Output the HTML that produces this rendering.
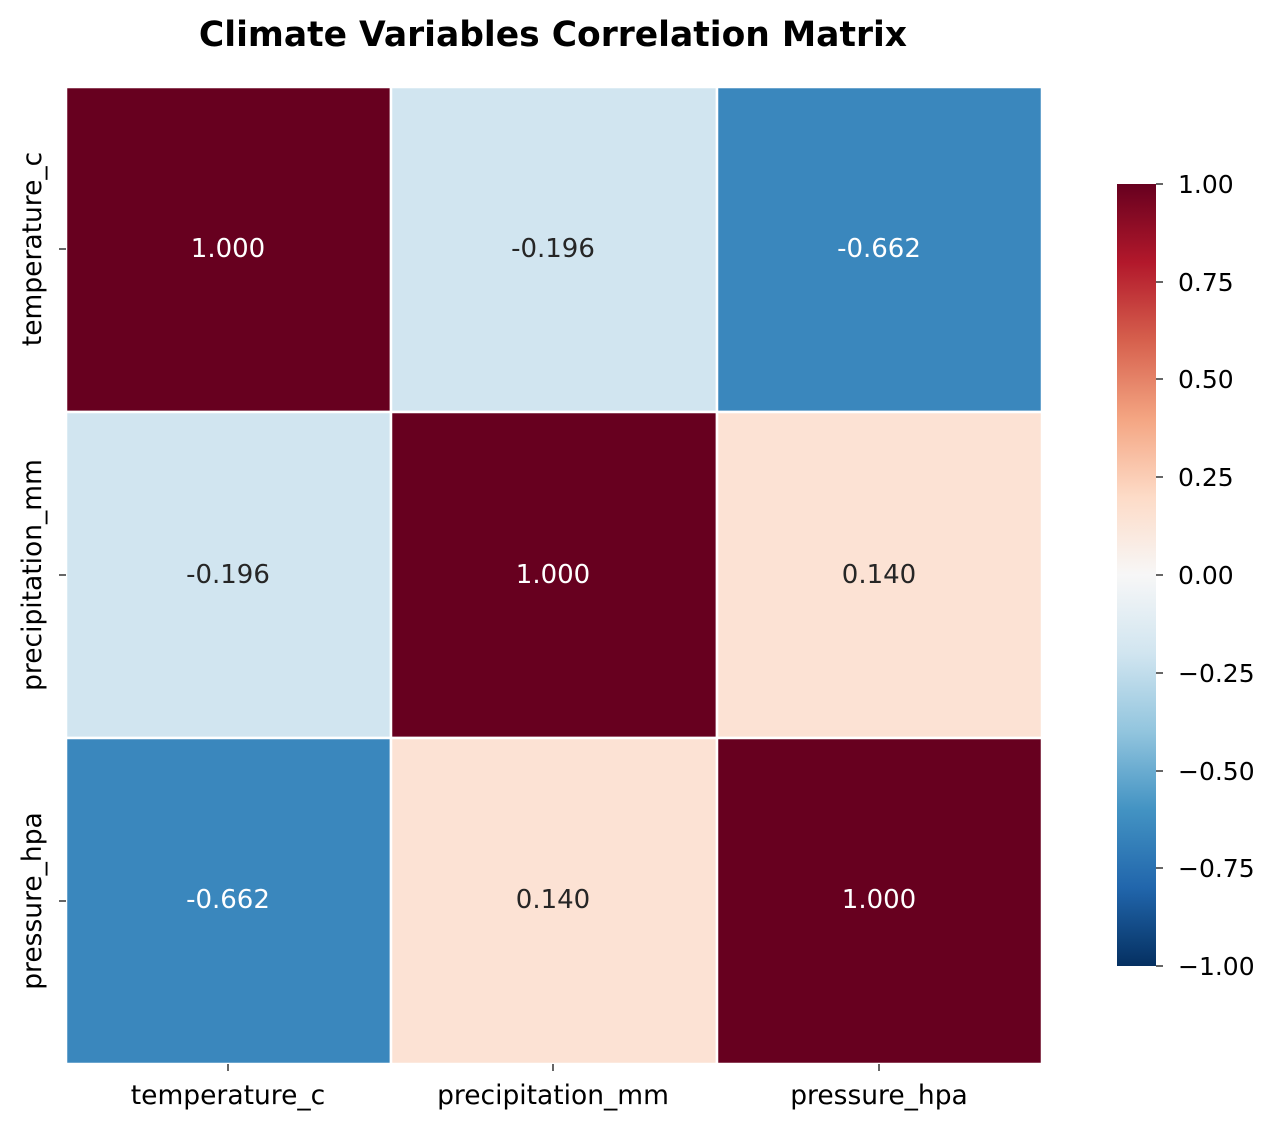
<!DOCTYPE html>
<html><head><meta charset="utf-8"><style>body{margin:0;background:#fff}svg{display:block}text{font-family:"DejaVu Sans","Liberation Sans",sans-serif}</style></head>
<body>
<svg width="1276" height="1129" xmlns="http://www.w3.org/2000/svg">
<defs><linearGradient id="g" x1="0" y1="1" x2="0" y2="0">
<stop offset="0" stop-color="#053061"/><stop offset="0.1" stop-color="#2166ac"/><stop offset="0.2" stop-color="#4393c3"/><stop offset="0.3" stop-color="#92c5de"/><stop offset="0.4" stop-color="#d1e5f0"/><stop offset="0.5" stop-color="#f7f7f7"/><stop offset="0.6" stop-color="#fddbc7"/><stop offset="0.7" stop-color="#f4a582"/><stop offset="0.8" stop-color="#d6604d"/><stop offset="0.9" stop-color="#b2182b"/><stop offset="1" stop-color="#67001f"/></linearGradient></defs>
<text x="553" y="46" font-size="34.5" font-weight="bold" text-anchor="middle">Climate Variables Correlation Matrix</text>
<g stroke="#fff" stroke-width="2.5">
<rect x="66" y="87" width="325" height="325" fill="#67001f"/>
<rect x="391" y="87" width="326" height="325" fill="#d1e5f0"/>
<rect x="717" y="87" width="325" height="325" fill="#3a87bd"/>
<rect x="66" y="412" width="325" height="326" fill="#d1e5f0"/>
<rect x="391" y="412" width="326" height="326" fill="#67001f"/>
<rect x="717" y="412" width="325" height="326" fill="#fce2d4"/>
<rect x="66" y="738" width="325" height="326" fill="#3a87bd"/>
<rect x="391" y="738" width="326" height="326" fill="#fce2d4"/>
<rect x="717" y="738" width="325" height="326" fill="#67001f"/>
</g>
<g font-size="26" text-anchor="middle">
<text x="228" y="257" fill="#fff">1.000</text><text x="553" y="257" fill="#262626">-0.196</text><text x="879" y="257" fill="#fff">-0.662</text>
<text x="228" y="583" fill="#262626">-0.196</text><text x="553" y="583" fill="#fff">1.000</text><text x="879" y="583" fill="#262626">0.140</text>
<text x="228" y="908" fill="#fff">-0.662</text><text x="553" y="908" fill="#262626">0.140</text><text x="879" y="908" fill="#fff">1.000</text>
</g>
<g stroke="#000" stroke-width="1.2">
<line x1="228" y1="1064" x2="228" y2="1071"/><line x1="553" y1="1064" x2="553" y2="1071"/><line x1="879" y1="1064" x2="879" y2="1071"/>
<line x1="59" y1="249" x2="66" y2="249"/><line x1="59" y1="575" x2="66" y2="575"/><line x1="59" y1="901" x2="66" y2="901"/>
</g>
<g font-size="26.5" text-anchor="middle">
<text x="228" y="1104">temperature_c</text><text x="553" y="1104">precipitation_mm</text><text x="879" y="1104">pressure_hpa</text>
<text transform="translate(41,249) rotate(-90)">temperature_c</text>
<text transform="translate(41,575) rotate(-90)">precipitation_mm</text>
<text transform="translate(41,901) rotate(-90)">pressure_hpa</text>
</g>
<rect x="1117" y="184" width="39" height="782" fill="url(#g)"/>
<g stroke="#000" stroke-width="1.2">
<line x1="1156" y1="184" x2="1163" y2="184"/><line x1="1156" y1="282" x2="1163" y2="282"/><line x1="1156" y1="379" x2="1163" y2="379"/><line x1="1156" y1="477" x2="1163" y2="477"/><line x1="1156" y1="575" x2="1163" y2="575"/><line x1="1156" y1="673" x2="1163" y2="673"/><line x1="1156" y1="771" x2="1163" y2="771"/><line x1="1156" y1="868" x2="1163" y2="868"/><line x1="1156" y1="966" x2="1163" y2="966"/>
</g>
<g font-size="25">
<text x="1178" y="193">1.00</text><text x="1178" y="291">0.75</text><text x="1178" y="388">0.50</text><text x="1178" y="486">0.25</text><text x="1178" y="584">0.00</text><text x="1178" y="682">−0.25</text><text x="1178" y="780">−0.50</text><text x="1178" y="877">−0.75</text><text x="1178" y="975">−1.00</text>
</g>
</svg>
</body></html>
